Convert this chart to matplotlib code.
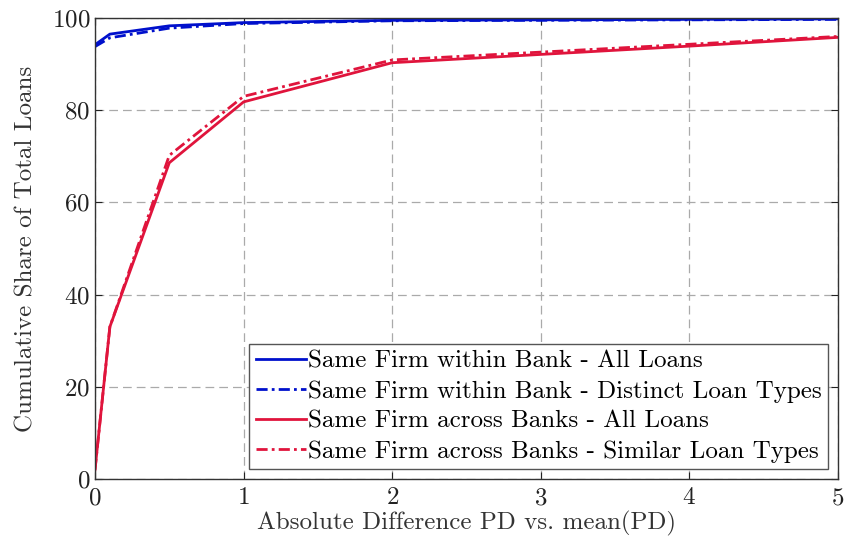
import numpy as np
import matplotlib
matplotlib.use("Agg")
import matplotlib.pyplot as plt

plt.rcParams['font.family'] = 'serif'
plt.rcParams['font.serif'] = ['cmr10', 'DejaVu Serif']
plt.rcParams['mathtext.fontset'] = 'cm'
plt.rcParams['axes.formatter.use_mathtext'] = True

# absolute difference PD vs mean(PD)
x = [0, 0.1, 0.5, 1, 2, 3, 4, 5]
within_all = [94.2, 96.5, 98.3, 99.0, 99.5, 99.6, 99.7, 99.8]
within_distinct = [93.8, 95.7, 97.8, 98.8, 99.4, 99.5, 99.6, 99.7]
across_all = [2.0, 33.0, 68.6, 81.8, 90.3, 92.1, 93.9, 95.8]
across_similar = [2.0, 33.0, 70.2, 83.0, 90.9, 92.6, 94.3, 96.0]

labels = ['Same Firm within Bank - All Loans',
          'Same Firm within Bank - Distinct Loan Types',
          'Same Firm across Banks - All Loans',
          'Same Firm across Banks - Similar Loan Types']

blue = '#0010CC'
red = '#E0143C'
dashdot = (0, (4, 1.5, 1, 1.5))

fig = plt.figure(figsize=(8.49, 5.5), dpi=100)
ax = fig.add_axes([95/849, 1-479/550, 743/849, 461/550])

ax.plot(x, within_all, color=blue, lw=2, ls='-', label=labels[0])
ax.plot(x, within_distinct, color=blue, lw=2, ls=dashdot, label=labels[1])
ax.plot(x, across_all, color=red, lw=2, ls='-', label=labels[2])
ax.plot(x, across_similar, color=red, lw=2, ls=dashdot, label=labels[3])

ax.set_xlim(0, 5)
ax.set_ylim(0, 100)
ax.set_xticks(range(0, 6))
ax.set_yticks(range(0, 101, 20))
ax.grid(True, ls=(0, (7, 4)), color='#aaaaaa', lw=0.9)
ax.tick_params(direction='in', top=True, right=True, labelsize=18, length=5,
               colors='#222222')
ax.tick_params(axis='x', pad=6)
for s in ax.spines.values():
    s.set_color('#333333')
    s.set_linewidth(1.0)

ax.set_xlabel('Absolute Difference PD vs. mean(PD)', fontsize=18,
              color='#333333', labelpad=1)
ax.set_ylabel('Cumulative Share of Total Loans', fontsize=18,
              color='#333333', labelpad=10)

leg = ax.legend(loc='lower right', fontsize=18, fancybox=False, framealpha=1,
                edgecolor='#555555', handlelength=2.0, handletextpad=0.1,
                labelspacing=0.3, borderpad=0.25, borderaxespad=0.4)
leg.get_frame().set_linewidth(1.0)

fig.savefig('out.png', dpi=100)
